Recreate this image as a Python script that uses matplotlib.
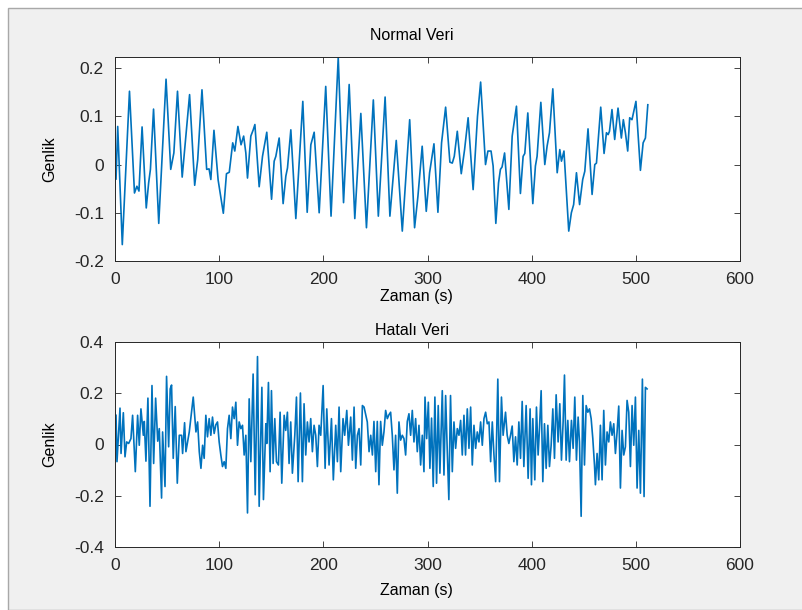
import matplotlib
matplotlib.use("Agg")
import matplotlib.pyplot as plt
from matplotlib.patches import Rectangle

# normal signal (time in s, amplitude)
normal_t = [1, 2.6, 7, 13.9, 18.7, 21, 23, 26, 30, 32.3, 34, 37, 42, 49, 53.5, 56.5, 60,
            64.5, 67.7, 71.6, 76.5, 79.4, 83.5, 88, 90.3, 92, 95, 99, 104, 107, 109.7, 113,
            115, 118, 121, 123.5, 125.6, 127.2, 130.4, 132.7, 134.3, 138.4, 141.6, 145.7,
            150.3, 152.8, 154.4, 157.6, 161.4, 164, 165.6, 168.8, 173.6, 180.3, 184.5, 188,
            191.2, 196, 202.3, 207.4, 214.3, 219.4, 224.8, 230.2, 236, 241.4, 248, 252.8,
            259.3, 263.9, 270, 275.8, 282.9, 287.6, 290.8, 294.9, 298.8, 302, 306.2, 310,
            313.5, 317.4, 321.5, 323.8, 325.7, 328.6, 332.4, 335.6, 339, 343.8, 348, 351,
            355.7, 358, 361, 363, 365.6, 368.2, 370, 371.6, 374, 378.1, 381.3, 385.4, 389.2,
            391.8, 393.4, 396.3, 401.1, 403.6, 405.2, 408.8, 412.6, 414.8, 417.1, 420.3,
            424.5, 427, 428.6, 431, 435.6, 438.1, 440.3, 443, 446, 449, 451, 454.1, 458,
            460.6, 462.2, 466.3, 469.5, 471.8, 473.4, 474.7, 477.1, 479.7, 482.9, 486.1,
            488, 490, 492.2, 494.1, 496.3, 500.1, 504.4, 507, 509.2, 511.5]
normal_amp = [-0.03, 0.079, -0.166, 0.152, -0.059, -0.045, -0.055, 0.078, -0.09, -0.038,
              -0.01, 0.115, -0.122, 0.177, -0.01, 0.024, 0.152, -0.026, 0.052, 0.145, -0.043,
              0.01, 0.155, -0.01, -0.009, -0.031, 0.071, -0.032, -0.101, -0.019, -0.016,
              0.045, 0.028, 0.079, 0.041, 0.059, 0.024, -0.028, 0.059, 0.072, 0.083, -0.046,
              0.017, 0.067, -0.072, 0.007, 0.017, 0.055, -0.081, -0.024, -0.007, 0.072,
              -0.112, 0.131, -0.099, 0.041, 0.067, -0.1, 0.162, -0.107, 0.222, -0.079, 0.166,
              -0.112, 0.106, -0.131, 0.134, -0.107, 0.14, -0.107, 0.05, -0.138, 0.093, -0.131,
              -0.066, 0.038, -0.097, -0.017, 0.043, -0.099, 0.045, 0.119, 0.005, 0.003, 0.017,
              0.069, -0.019, 0.031, 0.097, -0.052, 0.1, 0.171, 0.0, 0.028, 0.028, -0.003,
              -0.122, -0.038, -0.01, -0.005, 0.024, -0.093, 0.059, 0.121, -0.06, 0.017, 0.023,
              0.107, -0.081, -0.003, 0.017, 0.129, 0.0, 0.038, 0.066, 0.157, -0.017, 0.031,
              0.007, 0.028, -0.138, -0.1, -0.083, -0.017, -0.083, -0.031, -0.014, 0.074,
              -0.062, 0.0, 0.003, 0.119, 0.023, 0.066, 0.062, 0.069, 0.114, 0.052, 0.117,
              0.055, 0.093, 0.066, 0.028, 0.097, 0.093, 0.131, -0.012, 0.045, 0.055, 0.124]

# faulty signal
faulty_t = [1.0, 1.9, 4.8, 5.8, 8.0, 9.6, 11.2, 13.1, 15.3, 16.9, 19.5, 21.7, 23.3, 24.9,
            27.2, 28.1, 29.7, 31.6, 33.6, 35.5, 37.1, 39.0, 41.0, 42.5, 44.7, 45.7, 48.0,
            49.5, 51.5, 53.0, 54.3, 55.9, 57.8, 59.8, 61.7, 63.9, 64.9, 66.8, 68.1, 69.7,
            71.3, 75.1, 77.7, 79.3, 80.9, 82.5, 84.1, 85.6, 87.2, 88.8, 90.4, 92.0, 93.6,
            95.2, 96.8, 98.4, 100.0, 101.6, 103.2, 104.8, 106.4, 108.0, 109.6, 111.2, 112.8,
            114.4, 116.0, 117.6, 119.2, 120.8, 122.4, 124.0, 125.6, 127.2, 128.8, 130.4,
            132.6, 134.6, 136.8, 138.4, 141.0, 142.5, 144.8, 145.7, 147.3, 148.9, 150.2,
            151.8, 153.4, 155.0, 156.9, 158.5, 160.1, 162.4, 163.9, 165.5, 167.1, 168.7,
            170.3, 172.6, 174.2, 175.8, 178.0, 179.9, 181.5, 183.1, 184.7, 186.3, 187.9,
            189.5, 191.1, 192.7, 194.3, 195.9, 197.5, 199.8, 201.7, 203.3, 205.5, 207.8,
            209.6, 211.9, 213.5, 215.1, 216.7, 218.9, 220.5, 222.5, 224.1, 226.3, 227.9,
            229.5, 231.1, 232.7, 234.3, 235.9, 237.5, 239.1, 242.2, 243.9, 245.5, 247.1,
            248.6, 250.3, 251.8, 253.4, 255.0, 256.6, 258.2, 259.8, 261.4, 263.0, 264.6,
            266.2, 267.8, 269.4, 271.0, 272.6, 274.2, 275.8, 277.4, 279.0, 280.6, 282.2,
            283.8, 285.4, 287.0, 288.6, 290.2, 291.8, 293.4, 295.0, 296.6, 297.6, 299.2,
            300.8, 302.3, 303.9, 305.5, 307.1, 308.7, 310.3, 311.9, 314.2, 315.8, 317.4,
            319.0, 320.5, 322.1, 323.8, 325.4, 327.0, 328.6, 330.2, 331.8, 333.4, 335.0,
            336.5, 338.2, 339.8, 341.4, 343.0, 344.6, 346.2, 347.8, 349.4, 351.0, 352.6,
            354.2, 355.8, 357.4, 359.0, 360.6, 362.2, 363.8, 365.4, 367.5, 369.1, 371.0,
            372.6, 374.9, 376.5, 378.1, 379.7, 381.3, 382.9, 384.5, 386.1, 387.7, 389.3,
            390.9, 392.5, 394.7, 396.6, 398.5, 399.8, 401.1, 403.0, 404.6, 406.2, 407.5,
            409.1, 410.7, 412.3, 413.9, 415.5, 417.1, 418.7, 420.3, 421.9, 423.5, 425.4,
            427.0, 428.6, 430.2, 431.5, 433.1, 434.7, 436.3, 438.2, 439.8, 441.4, 443.0,
            444.6, 445.9, 447.5, 449.1, 450.7, 452.3, 453.9, 455.5, 457.1, 458.7, 460.3,
            461.2, 462.8, 464.4, 466.0, 467.6, 469.2, 470.8, 472.4, 474.0, 475.6, 477.2,
            478.8, 480.4, 482.0, 483.6, 485.2, 486.8, 488.4, 490.0, 491.6, 493.2, 494.8,
            496.4, 498.0, 499.6, 501.2, 502.8, 504.4, 506.3, 507.9, 509.2, 510.8]
faulty_amp = [0.114, -0.067, 0.142, -0.035, 0.124, -0.048, 0.010, 0.004, 0.023, 0.114,
              -0.106, 0.114, -0.003, 0.139, 0.036, 0.090, -0.065, 0.181, -0.241, 0.230,
              -0.074, 0.181, 0.013, 0.062, -0.209, 0.049, -0.164, 0.266, -0.009, 0.217,
              0.232, -0.054, 0.148, -0.151, 0.036, 0.036, -0.035, 0.085, -0.028, 0.010,
              0.049, 0.185, 0.049, 0.088, -0.028, -0.093, -0.003, -0.054, 0.114, 0.030,
              0.101, 0.036, 0.107, 0.043, 0.077, 0.088, 0.010, -0.041, -0.086, -0.067,
              -0.093, 0.062, 0.114, 0.023, 0.146, 0.101, 0.165, -0.003, 0.088, 0.062, 0.075,
              -0.041, 0.036, -0.267, 0.178, -0.067, 0.275, -0.196, 0.343, -0.241, 0.223,
              -0.215, 0.081, 0.004, 0.242, -0.106, 0.210, -0.074, 0.101, -0.067, -0.080,
              0.126, -0.151, 0.114, 0.055, 0.126, -0.074, 0.088, -0.112, 0.036, 0.185,
              -0.145, 0.201, -0.145, 0.159, -0.041, 0.088, 0.010, 0.101, -0.028, 0.075,
              0.036, -0.086, 0.075, 0.036, 0.230, -0.093, 0.139, -0.080, 0.101, -0.138,
              0.075, -0.067, 0.146, -0.106, 0.101, 0.036, 0.133, -0.003, 0.107, -0.061,
              0.146, -0.093, 0.036, 0.062, -0.080, 0.152, 0.146, 0.088, -0.028, 0.036,
              -0.041, 0.090, -0.106, 0.090, -0.157, 0.090, -0.003, 0.049, 0.133, 0.101,
              0.116, 0.126, 0.036, -0.099, 0.036, -0.190, 0.088, 0.017, 0.036, 0.023,
              -0.041, 0.090, 0.120, 0.036, 0.133, 0.010, 0.101, -0.028, 0.075, -0.080,
              0.036, -0.106, 0.185, 0.023, 0.165, -0.093, 0.103, -0.164, 0.185, -0.151,
              0.152, -0.112, 0.210, -0.119, 0.191, -0.028, -0.215, 0.191, -0.106, 0.088,
              -0.015, 0.062, 0.036, 0.094, -0.041, 0.114, -0.041, 0.139, -0.015, 0.146,
              -0.080, 0.075, -0.015, 0.049, 0.010, 0.088, -0.003, 0.101, 0.126, 0.081,
              0.088, -0.067, 0.088, -0.041, -0.145, 0.255, -0.145, 0.185, 0.036, 0.126,
              0.036, 0.004, 0.036, 0.072, -0.067, 0.030, -0.080, 0.088, -0.054, 0.168,
              -0.086, 0.152, -0.132, 0.139, -0.157, 0.101, -0.138, 0.146, -0.041, 0.062,
              0.210, -0.145, 0.081, -0.093, 0.075, -0.086, -0.003, 0.139, -0.054, 0.194,
              0.010, 0.159, -0.061, 0.088, 0.271, -0.061, 0.094, -0.067, 0.094, -0.015,
              0.185, -0.061, 0.107, 0.010, -0.280, 0.191, -0.080, 0.152, 0.126, 0.139,
              0.101, 0.023, -0.080, -0.157, -0.035, -0.138, 0.075, -0.138, 0.133, -0.080,
              0.049, 0.010, 0.088, 0.036, 0.081, -0.035, 0.049, 0.150, -0.170, 0.055,
              -0.041, -0.009, 0.172, 0.126, -0.086, 0.152, -0.003, 0.185, -0.170, 0.055,
              -0.190, 0.255, -0.203, 0.223, 0.217]

panels = [
    ("Normal Veri", normal_t, normal_amp, (-0.2, 0.223), [-0.2, -0.1, 0, 0.1, 0.2]),
    ("Hatalı Veri", faulty_t, faulty_amp, (-0.4, 0.4), [-0.4, -0.2, 0, 0.2, 0.4]),
]
x_ticks = [0, 100, 200, 300, 400, 500, 600]
line_color = "#0072BD"
ink = "#262626"

plt.rcParams["font.family"] = ["Liberation Sans Narrow", "Liberation Sans", "DejaVu Sans"]

fig = plt.figure(figsize=(8.02, 6.10), dpi=100, facecolor="white")
# grey window panel behind the axes
fig.add_artist(Rectangle((8 / 802, 0), 1, 1 - 8 / 610, transform=fig.transFigure,
                         facecolor="#f0f0f0", edgecolor="#a8a8a8", lw=1.0, zorder=-10))

W, H = 802, 610
# axes boxes in pixels: left, top, right, bottom
boxes = [(115, 57, 740, 261), (115, 342, 740, 547)]
xlabel_y = [296, 590]
title_pad = [12, 5]

for (title, t, amp, ylim, yticks), (l, tp, r, b), xly, tpad in zip(panels, boxes, xlabel_y, title_pad):
    ax = fig.add_axes([l / W, 1 - b / H, (r - l) / W, (b - tp) / H])
    ax.set_facecolor("white")
    ax.plot(t, amp, color=line_color, lw=1.2, solid_joinstyle="round")
    ax.set_xlim(0, 600)
    ax.set_ylim(*ylim)
    ax.set_xticks(x_ticks)
    ax.set_yticks(yticks)
    ax.set_yticklabels([f"{v:g}" for v in yticks])
    ax.tick_params(direction="in", top=True, right=True, length=4, width=0.6,
                   colors=ink, labelsize=12.5)
    ax.tick_params(axis="x", pad=8)
    ax.tick_params(axis="y", pad=8)
    for s in ax.spines.values():
        s.set_color(ink)
        s.set_linewidth(0.7)
    ax.set_title(title, fontsize=11.5, color="black", x=0.475, pad=tpad)
    ax.set_xlabel("Zaman (s)", fontsize=11.5, color="black")
    ax.xaxis.label.set_va("center")
    ax.xaxis.set_label_coords(0.483, -(xly - b) / (b - tp))
    ax.set_ylabel("Genlik", fontsize=11.5, color="black")
    ax.yaxis.label.set_va("center")
    ax.yaxis.set_label_coords(-(115 - 50) / (r - l), 0.5)

fig.savefig("out.png", dpi=100, facecolor=fig.get_facecolor())
